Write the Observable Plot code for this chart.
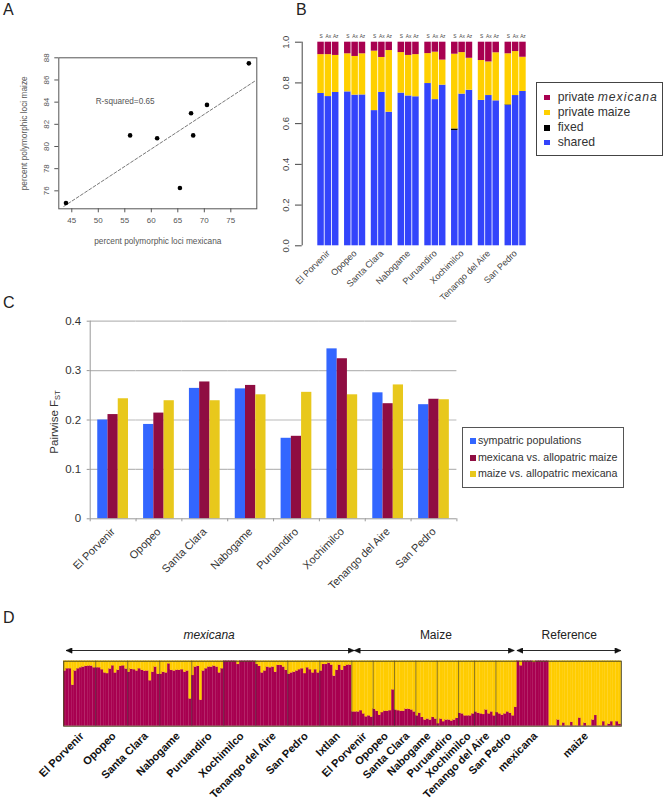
<!DOCTYPE html>
<html>
<head>
<meta charset="utf-8">
<script src="https://cdn.jsdelivr.net/npm/d3@7"></script>
<script src="https://cdn.jsdelivr.net/npm/@observablehq/plot@0.6"></script>
<style>
  html,body{margin:0;padding:0;background:#fff;}
  #page{position:relative;width:666px;height:800px;overflow:hidden;font-family:"Liberation Sans",Arial,sans-serif;color:#333;}
  #page svg{position:absolute;max-width:none;background:transparent;}
  .letter{position:absolute;font-size:16px;line-height:16px;color:#222;}
  .legend{position:absolute;background:#fff;box-sizing:border-box;}
  .legend .row{position:absolute;white-space:nowrap;}
  .legend .sw{position:absolute;}
</style>
</head>
<body>
<div id="page"></div>
<script>
// ---------- Panel A ----------
const lociMexicana = [43.9, 56.0, 61.1, 65.4, 67.5, 67.9, 70.5, 78.4];
const lociMaize    = [74.9, 81.0, 80.75, 76.25, 83.0, 81.0, 83.75, 87.5];
const fitX = [43.5, 79.7];
const fitY = [74.6, 85.95];
const ticksAX = [45, 50, 55, 60, 65, 70, 75];
const ticksAY = [76, 78, 80, 82, 84, 86, 88];

// ---------- Panels B and C ----------
const sites = ["El Porvenir","Opopeo","Santa Clara","Nabogame","Puruandiro","Xochimilco","Tenango del Aire","San Pedro"];
const comparisons = ["S","Ax","Az"];
const partNames = ["shared","fixed","private maize","private mexicana"];
const shared = [.748,.733,.753, .756,.740,.741, .664,.753,.656, .750,.736,.732, .797,.718,.789, .566,.745,.764, .714,.738,.712, .689,.738,.758];
const fixed  = [0,0,0, 0,0,0, 0,0,0, 0,0,0, 0,0,0, .008,0,0, 0,0,0, .003,0,0];
const privMaize = [.191,.206,.182, .187,.190,.202, .292,.172,.303, .199,.199,.207, .147,.233,.123, .367,.204,.157, .196,.165,.236, .251,.216,.168];
const privMexicana = [.061,.061,.065, .057,.070,.057, .044,.075,.041, .051,.065,.061, .056,.049,.088, .059,.051,.079, .090,.097,.052, .057,.046,.074];
const ticksB = [0, .2, .4, .6, .8, 1];

const fstNames = ["sympatric populations","mexicana vs. allopatric maize","maize vs. allopatric mexicana"];
const fstSympatric = [.200,.191,.264,.263,.163,.344,.255,.231];
const fstMexicana  = [.211,.214,.277,.270,.167,.324,.233,.242];
const fstMaize     = [.243,.239,.239,.251,.256,.251,.271,.241];
const ticksC = [0, .1, .2, .3, .4];

// ---------- Panel D: share of mexicana ancestry per individual ----------
const sitesD = ["El Porvenir","Opopeo","Santa Clara","Nabogame","Puruandiro","Xochimilco","Tenango del Aire","San Pedro","Ixtlan",
                "El Porvenir","Opopeo","Santa Clara","Nabogame","Puruandiro","Xochimilco","Tenango del Aire","San Pedro","mexicana","maize"];
const ancestry = [
  [.85,.885,.885,.63,.85,.885,.90,.91,.92,.925,.925,.90],
  [.90,.90,.87,.82,.81,.88,.93,.82,.86,.92,.93,.88],
  [.83,.875,.87,.85,.885,.86,.845,.85,.70,.83,.91,.80],
  [.80,.83,.82,.96,.86,.85,.86,.86,.87,.83,.85,.42],
  [.78,.91,.92,.40,.85,.885,.91,.91,.925,.91,.82,.885],
  [1,1,1,1,1,.95,1,1,1,1,1,1],
  [.95,.92,.82,.85,.91,.90,.91,.83,.935,.935,.91,.86],
  [.80,.82,.83,.85,.87,.885,.81,.90,.87,.82,.87,.82],
  [.85,.95,.95,.97,.94,.77,.86,.94,.86,.92,.94,.94],
  [.22,.22,.22,.24,.19,.145,.16,.14],
  [.26,.23,.17,.21,.23,.23,.24,.56],
  [.25,.24,.23,.23,.26,.26,.25,.22],
  [.16,.20,.135,.095,.11,.095,.135,.11],
  [.04,.11,.07,.095,.095,.08,.095,.12],
  [.20,.19,.16,.16,.16,.19],
  [.22,.20,.19,.18,.25,.19,.22,.16],
  [.21,.19,.17,.19,.22,.20,.16,.29],
  [1,.93,1,1,1,1,.98,1,1,1,1,1],
  [.005,.005,.005,.095,.005,.05,.005,.005,.06,.005,.005,.125,.005,.045,.005,.005,.095,.165,.005,.005,.07,.005,.03,.07,.005,.07,.03]
];
const groupNames = ["mexicana","Maize","Reference"];
const groupFirstSite = [0, 9, 17];
const groupLastSite = [8, 16, 18];
const arrowFrom = [0, 108, 169];
const arrowTo = [108, 168, 208];

const colB = ["#3344fb","#000000","#ffd000","#a80050"];
const colC = ["#3366ff","#8f0d42","#e8c81c"];
const colD = ["#a80050","#ffcc00"];
const font = "Liberation Sans, Arial, sans-serif";
const page = document.getElementById("page");
function place(svg, left, top){ svg.style.left = left+"px"; svg.style.top = top+"px"; page.appendChild(svg); }
function letter(t, x, y){ const d=document.createElement("div"); d.className="letter"; d.textContent=t; d.style.left=x+"px"; d.style.top=y+"px"; page.appendChild(d); }
letter("A",3,2); letter("B",296,2); letter("C",3,295); letter("D",3,610);

// Panel A
place(Plot.plot({
  width:290, height:270, marginLeft:58.3, marginRight:33.7, marginTop:57.3, marginBottom:61.7,
  style:{fontFamily:font, background:"transparent"},
  x:{domain:[42.55,79.9]}, y:{domain:[74.38,88]},
  marks:[
    Plot.frame({stroke:"#555"}),
    Plot.axisX({ticks:ticksAX, tickSize:4, tickPadding:5, fontSize:8, color:"#555", stroke:"#555", label:null}),
    Plot.axisY({ticks:ticksAY, tickSize:4, tickPadding:6, fontSize:8, color:"#555", stroke:"#555", tickRotate:-90, label:null}),
    Plot.line(fitX.map((x,i)=>({x,y:fitY[i]})), {x:"x", y:"y", stroke:"#555", strokeWidth:.8, strokeDasharray:"3,2"}),
    Plot.dot(lociMexicana, {x:d=>d, y:(d,i)=>lociMaize[i], r:2.3, fill:"#000"}),
    Plot.text(["R-squared=0.65"], {x:[49.5], y:[84.05], textAnchor:"start", fontSize:8.2, fill:"#555"}),
    Plot.text(["percent polymorphic loci mexicana"], {frameAnchor:"bottom", dy:35.5, fontSize:8.3, fill:"#555"}),
    Plot.text(["percent polymorphic loci maize"], {frameAnchor:"left", textAnchor:"middle", dx:-34.5, rotate:-90, fontSize:8.3, fill:"#555"})
  ]
}), 0, 0);

// Panel B
const partRows = [];
const partSeries = [shared, fixed, privMaize, privMexicana];
sites.forEach((site,s)=>comparisons.forEach((c,k)=>partNames.forEach((p,j)=>{
  partRows.push({site, c, part:p, value:partSeries[j][s*3+k]});
})));
place(Plot.plot({
  width:260, height:300, marginLeft:37.3, marginRight:14.3, marginTop:21.7, marginBottom:74.7,
  style:{fontFamily:font, background:"transparent"},
  fx:{domain:sites, paddingInner:.209, paddingOuter:0, round:false, label:null},
  x:{domain:comparisons, paddingInner:.113, paddingOuter:0, round:false, axis:null},
  y:{domain:[0,1]},
  color:{domain:partNames, range:colB},
  marks:[
    Plot.barY(partRows, {fx:"site", x:"c", y:"value", fill:"part"}),
    Plot.text(comparisons, {x:d=>d, text:d=>d, y:[1,1,1], dy:-6, fontSize:4.8, fill:"#444"}),
    Plot.ruleX(["S"], {y1:[0], y2:[1], dx:-18.85, stroke:"#444", facetAnchor:"left"}),
    Plot.axisY({ticks:ticksB, tickFormat:d=>d.toFixed(1), dx:-15.6, tickSize:6.7, tickPadding:6, fontSize:9.5, tickRotate:-90, color:"#444", stroke:"#444", label:null}),
    Plot.axisFx({anchor:"bottom", tickSize:0, tickPadding:6, tickRotate:-45, fontSize:9, color:"#444", label:null})
  ]
}), 280, 20);

// Panel C
const fstSeries = [fstSympatric, fstMexicana, fstMaize];
const fstRows = [];
sites.forEach((site,s)=>fstNames.forEach((n,k)=>fstRows.push({site, comparison:n, value:fstSeries[k][s]})));
const tickEdge = 12.675;
place(Plot.plot({
  width:666, height:300, marginLeft:89.7, marginRight:209.6, marginTop:20.7, marginBottom:81.7,
  style:{fontFamily:font, background:"transparent"},
  fx:{domain:sites, padding:0, round:false, label:null},
  x:{domain:fstNames, paddingInner:0, paddingOuter:.737, round:false, axis:null},
  y:{domain:[0,.4]},
  color:{domain:fstNames, range:colC},
  marks:[
    Plot.ruleY(ticksC.slice(1), {stroke:"#b9b9b9", strokeWidth:1.2}),
    Plot.barY(fstRows, {fx:"site", x:"comparison", y:"value", fill:"comparison"}),
    Plot.ruleY([0], {stroke:"#999"}),
    Plot.ruleX([fstNames[0]], {y1:[0], y2:[0], insetBottom:-3, dx:-tickEdge, stroke:"#999"}),
    Plot.ruleX([fstNames[2]], {y1:[0], y2:[0], insetBottom:-3, dx:tickEdge, stroke:"#999", facetAnchor:"right"}),
    Plot.ruleX([fstNames[0]], {y1:[0], y2:[.4], dx:-tickEdge, stroke:"#999", facetAnchor:"left"}),
    Plot.axisY({ticks:ticksC, tickFormat:d=>d===0?"0":d.toFixed(1), tickSize:3, tickPadding:6, fontSize:11.5, color:"#333", stroke:"#999", label:null}),
    Plot.axisFx({anchor:"bottom", tickSize:0, tickPadding:11, tickRotate:-45, fontSize:11, color:"#333", label:null})
  ]
}), 0, 300);

// y label of panel C with subscript
const yl = document.createElement("div");
yl.innerHTML = 'Pairwise F<span style="font-size:7.5px;position:relative;top:2px">ST</span>';
Object.assign(yl.style,{position:"absolute",left:"54px",top:"421.5px",fontSize:"11.5px",whiteSpace:"nowrap",transform:"translate(-50%,-50%) rotate(-90deg)",color:"#333"});
page.appendChild(yl);

// Panel D
let nextId = 0;
const dRows = [], siteStarts = [], siteMids = [];
ancestry.forEach((vals)=>{
  siteStarts.push(nextId);
  siteMids.push(nextId + Math.floor(vals.length/2));
  vals.forEach(v=>{
    dRows.push({id:nextId, source:"mexicana", value:v});
    dRows.push({id:nextId, source:"maize", value:1-v});
    nextId++;
  });
});
const ids = d3.range(nextId);
const lastIdOf = s => (s+1<siteStarts.length ? siteStarts[s+1]-1 : nextId-1);
const groupFirst = groupFirstSite.map(s=>siteStarts[s]);
const groupLast = groupLastSite.map(lastIdOf);
const groupMid = groupFirst.map((f,i)=>Math.round((f+groupLast[i])/2));
const dividers = siteStarts.filter(s=>s!==siteStarts[17] && s!==siteStarts[18] && s!==0);
function arrowHead(orient){
  return () => {
    const m = document.createElementNS("http://www.w3.org/2000/svg","marker");
    m.setAttribute("viewBox","-10 -5 10 10"); m.setAttribute("markerWidth",7); m.setAttribute("markerHeight",6);
    m.setAttribute("refX",0); m.setAttribute("refY",0);
    m.setAttribute("orient",orient); m.setAttribute("markerUnits","userSpaceOnUse");
    const p = document.createElementNS("http://www.w3.org/2000/svg","path");
    p.setAttribute("d","M-10,-4.5L0,0L-10,4.5Z"); p.setAttribute("fill","#111");
    m.appendChild(p); return m;
  };
}
place(Plot.plot({
  width:666, height:190, marginLeft:63.2, marginRight:45.2, marginTop:50.7, marginBottom:74.3,
  style:{fontFamily:font, background:"transparent"},
  x:{domain:ids, padding:0, round:false, axis:null},
  y:{domain:[0,1], axis:null},
  color:{domain:["mexicana","maize"], range:colD},
  marks:[
    Plot.barY(dRows, {x:"id", y:"value", fill:"source", stroke:"source", strokeWidth:.2}),
    Plot.ruleX(dividers, {y1:dividers.map(()=>0), y2:dividers.map(()=>1), dx:-1.334, stroke:"#333", strokeOpacity:.7, strokeWidth:.8}),
    Plot.frame({stroke:"#4c4620", strokeWidth:1}),
    Plot.link(groupNames, {
      x1:(d,i)=>arrowFrom[i], x2:(d,i)=>arrowTo[i], y1:groupNames.map(()=>1), y2:groupNames.map(()=>1),
      dy:-10.7, dx:1, stroke:"#111", strokeWidth:.9,
      markerStart:arrowHead(180), markerEnd:arrowHead(0)
    }),
    Plot.text(groupNames.slice(0,1), {x:[groupMid[0]], y:[1], dy:-25.7, fontSize:12, fill:"#222", fontStyle:"italic"}),
    Plot.text(groupNames.slice(1), {x:groupMid.slice(1), y:[1,1], dy:-25.7, fontSize:12, fill:"#222"}),
    Plot.text(sitesD, {x:(d,i)=>siteMids[i], y:sitesD.map(()=>0), dy:8, dx:1, rotate:-45, textAnchor:"end",
      fontSize:11, fontWeight:"bold", fill:"#111"})
  ]
}), 0, 610);

// Legends
function legend(box, rows){
  const d = document.createElement("div"); d.className="legend";
  Object.assign(d.style,{left:box.x+"px",top:box.y+"px",width:box.w+"px",height:box.h+"px",border:box.border});
  rows.forEach(r=>{
    const s=document.createElement("div"); s.className="sw";
    Object.assign(s.style,{left:box.swX+"px",top:(r.y-box.sw/2)+"px",width:box.sw+"px",height:box.sw+"px",background:r.c});
    d.appendChild(s);
    const t=document.createElement("div"); t.className="row"; t.innerHTML=r.t;
    Object.assign(t.style,{left:box.txX+"px",top:(r.y-box.fs*.62)+"px",fontSize:box.fs+"px",lineHeight:(box.fs*1.24)+"px",color:"#333"});
    d.appendChild(t);
  });
  page.appendChild(d);
}
legend({x:535.7,y:82.3,w:127,h:73.5,border:"1px solid #444",swX:7.5,sw:5.5,txX:21,fs:12.2},[
  {t:'private <i style="letter-spacing:1px">mexicana</i>',c:colB[3],y:14},
  {t:"private maize",c:colB[2],y:29},
  {t:"fixed",c:colB[1],y:44.5},
  {t:"shared",c:colB[0],y:59}
]);
legend({x:462.4,y:427,w:162,h:61,border:"1px solid #555",swX:6.5,sw:6,txX:14.5,fs:10.7},[
  {t:fstNames[0],c:colC[0],y:13},
  {t:fstNames[1],c:colC[1],y:29.5},
  {t:fstNames[2],c:colC[2],y:45.5}
]);
</script>
</body>
</html>
